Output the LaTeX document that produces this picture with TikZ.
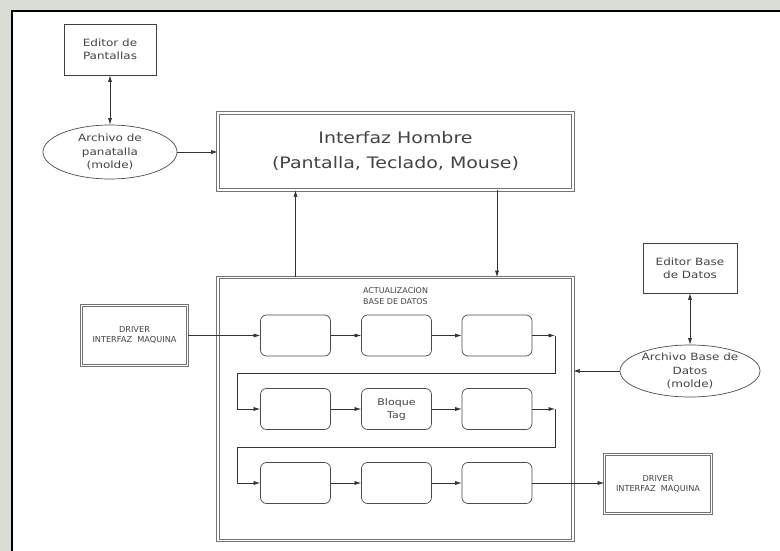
\documentclass[tikz,border=0pt]{standalone}
\usepackage{fontspec}
\setmainfont{DejaVu Sans}
\newfontfamily\cadwide[FakeStretch=1.2]{DejaVu Sans}
\usetikzlibrary{arrows.meta,positioning,shapes.geometric}

\definecolor{txtgray}{HTML}{444444}
\definecolor{bggray}{HTML}{DADDD6}

\tikzset{
  every node/.style={text=txtgray, align=center, inner sep=0pt},
  conn/.style={draw=black!80, line width=0.6pt},
  >={Latex[length=6.5pt,width=4pt]},
  single/.style={draw=black!75, line width=0.7pt,
    font=\cadwide\fontsize{10}{13.3}\selectfont},
  dbl/.style={draw=black!55, double=white, double distance=1.8pt, line width=0.7pt},
  blk/.style={draw=black!70, line width=0.7pt, rounded corners=6pt,
    minimum width=70pt, minimum height=41pt,
    font=\cadwide\fontsize{9.2}{13}\selectfont},
  archivo/.style={ellipse, draw=black!70, line width=0.7pt, inner sep=-6pt,
    font=\cadwide\fontsize{10}{13.3}\selectfont},
  caps/.style={font=\fontsize{8.2}{10}\selectfont}
}

\begin{document}
\begin{tikzpicture}[x=1pt,y=-1pt]
\useasboundingbox (0,0) rectangle (780,551);
\fill[bggray] (0,0) rectangle (780,551);
\fill[white] (12,11) rectangle (780,551);
\draw[black, line width=1.8pt] (12,551) -- (12,11) -- (780,11);

% pantallas
\node[single, minimum width=92pt, minimum height=51pt] (edpant) at (110,49.5)
  {Editor de\\Pantallas};
\node[archivo, minimum width=134pt, minimum height=54pt] (arcpant) at (110,152)
  {Archivo de\\panatalla\\(molde)};

% interfaz hombre
\node[dbl, minimum width=355pt, minimum height=77pt,
  font=\cadwide\fontsize{15.8}{25}\selectfont] (ihm) at (395.5,151.5)
  {Interfaz Hombre\\(Pantalla, Teclado, Mouse)};

% actualizacion base de datos
\node[dbl, minimum width=355pt, minimum height=263pt] (act) at (395.5,409) {};
\node[caps, font=\fontsize{8}{11}\selectfont] (acttit) at (395.5,296)
  {ACTUALIZACION\\BASE DE DATOS};

\node[blk] (r1c1) at (295.5,335.5) {};
\node[blk] (r1c2) at (396.5,335.5) {};
\node[blk] (r1c3) at (497,335.5) {};
\node[blk] (r2c1) at (295.5,409) {};
\node[blk] (r2c2) at (396.5,409) {Bloque\\Tag};
\node[blk] (r2c3) at (497,409) {};
\node[blk] (r3c1) at (295.5,483) {};
\node[blk] (r3c2) at (396.5,483) {};
\node[blk] (r3c3) at (497,483) {};

\coordinate (t1) at (555,335.5);
\coordinate (u1) at (237,373);
\coordinate (t2) at (555,409);
\coordinate (u2) at (237,447);

% drivers
\node[dbl, caps, minimum width=106pt, minimum height=60pt] (drvin) at (134.5,335.5)
  {DRIVER\\INTERFAZ\ \ MAQUINA};
\node[dbl, caps, minimum width=107pt, minimum height=59pt] (drvout) at (658,484)
  {DRIVER\\INTERFAZ\ \ MAQUINA};

% base de datos
\node[single, minimum width=94pt, minimum height=50pt] (edbd) at (690,268)
  {Editor Base\\de Datos};
\node[archivo, minimum width=140pt, minimum height=52pt] (arcbd) at (690,371)
  {Archivo Base de\\Datos\\(molde)};

% conectores
\draw[conn,<->] (edpant) -- (arcpant);
\draw[conn,->] (arcpant) -- (arcpant -| ihm.west);
\draw[conn,->] (act.north -| r1c1) -- (ihm.south -| r1c1);
\draw[conn,->] (ihm.south -| r1c3) -- (act.north -| r1c3);
\draw[conn,->] (drvin) -- (r1c1);
\draw[conn,->] (r1c1) -- (r1c2);
\draw[conn,->] (r1c2) -- (r1c3);
\draw[conn,->] (r1c3) -- (t1);
\draw[conn,->] (t1) |- (u1) |- (r2c1);
\draw[conn,->] (r2c1) -- (r2c2);
\draw[conn,->] (r2c2) -- (r2c3);
\draw[conn,->] (r2c3) -- (t2);
\draw[conn,->] (t2) |- (u2) |- (r3c1);
\draw[conn,->] (r3c1) -- (r3c2);
\draw[conn,->] (r3c2) -- (r3c3);
\draw[conn,->] (r3c3) -- (r3c3 -| drvout.west);
\draw[conn,<->] (edbd) -- (arcbd);
\draw[conn,->] (arcbd) -- (arcbd -| act.east);
\end{tikzpicture}
\end{document}
